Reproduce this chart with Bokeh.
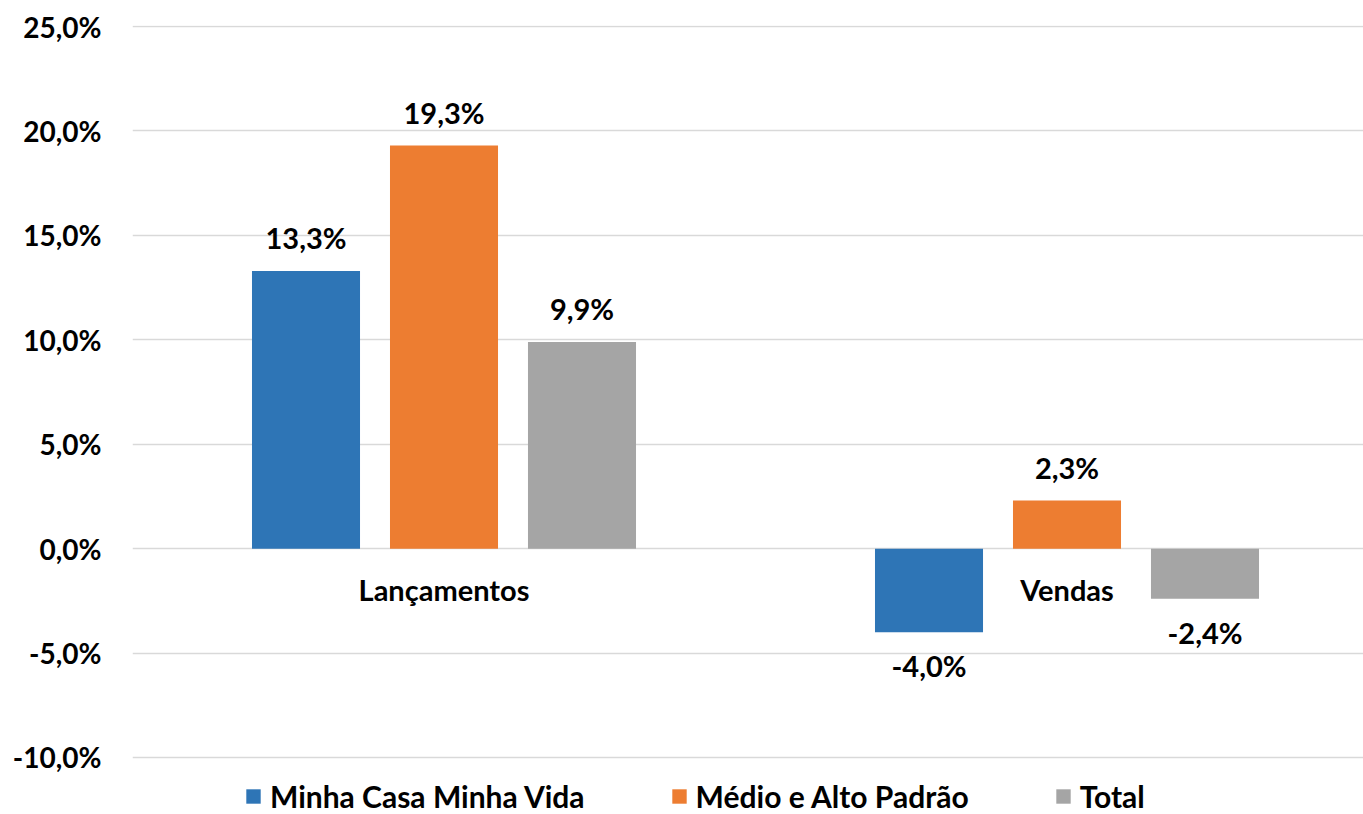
from bokeh.plotting import figure
from bokeh.models import (Range1d, ColumnDataSource, CustomJSTickFormatter, Legend,
                          LegendItem, FixedTicker)
from bokeh.core.properties import value
from bokeh.embed import file_html
from bokeh.resources import INLINE

categories = ["Lançamentos", "Vendas"]
series_names = ["Minha Casa Minha Vida", "Médio e Alto Padrão", "Total"]
mcmv = [13.3, -4.0]
medio_alto = [19.3, 2.3]
total = [9.9, -2.4]
colors = ["#2E75B6", "#ED7D31", "#A5A5A5"]
y_ticks = [-10, -5, 0, 5, 10, 15, 20, 25]

FONT = "Lato"
FS = "29px"
series_values = [mcmv, medio_alto, total]
offsets = [-0.2215, 0.0, 0.2215]
bar_w = 0.1734

# frame spans the full lower part of the canvas so the legend sits inside it
p = figure(width=1363, height=814, output_backend="svg", toolbar_location=None,
           x_range=Range1d(0, 1231 / 623), y_range=Range1d(-12.73, 25.05),
           min_border_left=132, min_border_right=0, min_border_top=25,
           min_border_bottom=0)
p.outline_line_color = None
p.xaxis.visible = False
p.xgrid.visible = False
p.ygrid.grid_line_color = "#D9D9D9"
p.ygrid.grid_line_width = 1.5
p.yaxis.ticker = FixedTicker(ticks=y_ticks)
p.yaxis.axis_line_color = None
p.yaxis.major_tick_line_color = None
p.yaxis.minor_tick_line_color = None
p.yaxis.major_label_standoff = 25
p.yaxis.major_label_text_font = FONT
p.yaxis.major_label_text_font_style = "bold"
p.yaxis.major_label_text_font_size = "28px"
p.yaxis.major_label_text_color = "#000000"
p.yaxis.formatter = CustomJSTickFormatter(
    code="return tick.toFixed(1).replace('.', ',') + '%';")

renderers = []
for name, vals, off, col in zip(series_names, series_values, offsets, colors):
    xs = [i + 0.5 + off for i in range(len(categories))]
    labs = [f"{v:.1f}".replace(".", ",") + "%" for v in vals]
    src = ColumnDataSource(dict(x=xs, top=vals, lab=labs))
    r = p.vbar(x="x", top="top", bottom=0, width=bar_w, source=src,
               fill_color=col, line_color=None)
    renderers.append(r)
    pos = ColumnDataSource(dict(x=[x for x, v in zip(xs, vals) if v >= 0],
                                y=[v for v in vals if v >= 0],
                                lab=[l for l, v in zip(labs, vals) if v >= 0]))
    neg = ColumnDataSource(dict(x=[x for x, v in zip(xs, vals) if v < 0],
                                y=[v for v in vals if v < 0],
                                lab=[l for l, v in zip(labs, vals) if v < 0]))
    p.text(x="x", y="y", text="lab", source=pos, text_align="center",
           text_baseline="bottom", y_offset=-16, text_font=value(FONT),
           text_font_style="bold", text_font_size=FS, text_color="#000000")
    p.text(x="x", y="y", text="lab", source=neg, text_align="center",
           text_baseline="top", y_offset=16, text_font=value(FONT),
           text_font_style="bold", text_font_size=FS, text_color="#000000")

cat_src = ColumnDataSource(dict(x=[i + 0.5 for i in range(len(categories))],
                                y=[0] * len(categories), t=categories))
p.text(x="x", y="y", text="t", source=cat_src, text_align="center",
       text_baseline="top", y_offset=23, text_font=value(FONT),
       text_font_style="bold", text_font_size=FS, text_color="#000000")

legend = Legend(items=[LegendItem(label=n, renderers=[r]) for n, r in zip(series_names, renderers)],
                orientation="horizontal", location=(112, 0),
                glyph_width=18, glyph_height=18, label_standoff=8, spacing=85,
                padding=0, margin=0, border_line_color=None,
                background_fill_alpha=0,
                label_text_font=FONT, label_text_font_style="bold",
                label_text_font_size="30px", label_text_color="#000000")
p.add_layout(legend)

open("out.html", "w").write(file_html(p, INLINE))
